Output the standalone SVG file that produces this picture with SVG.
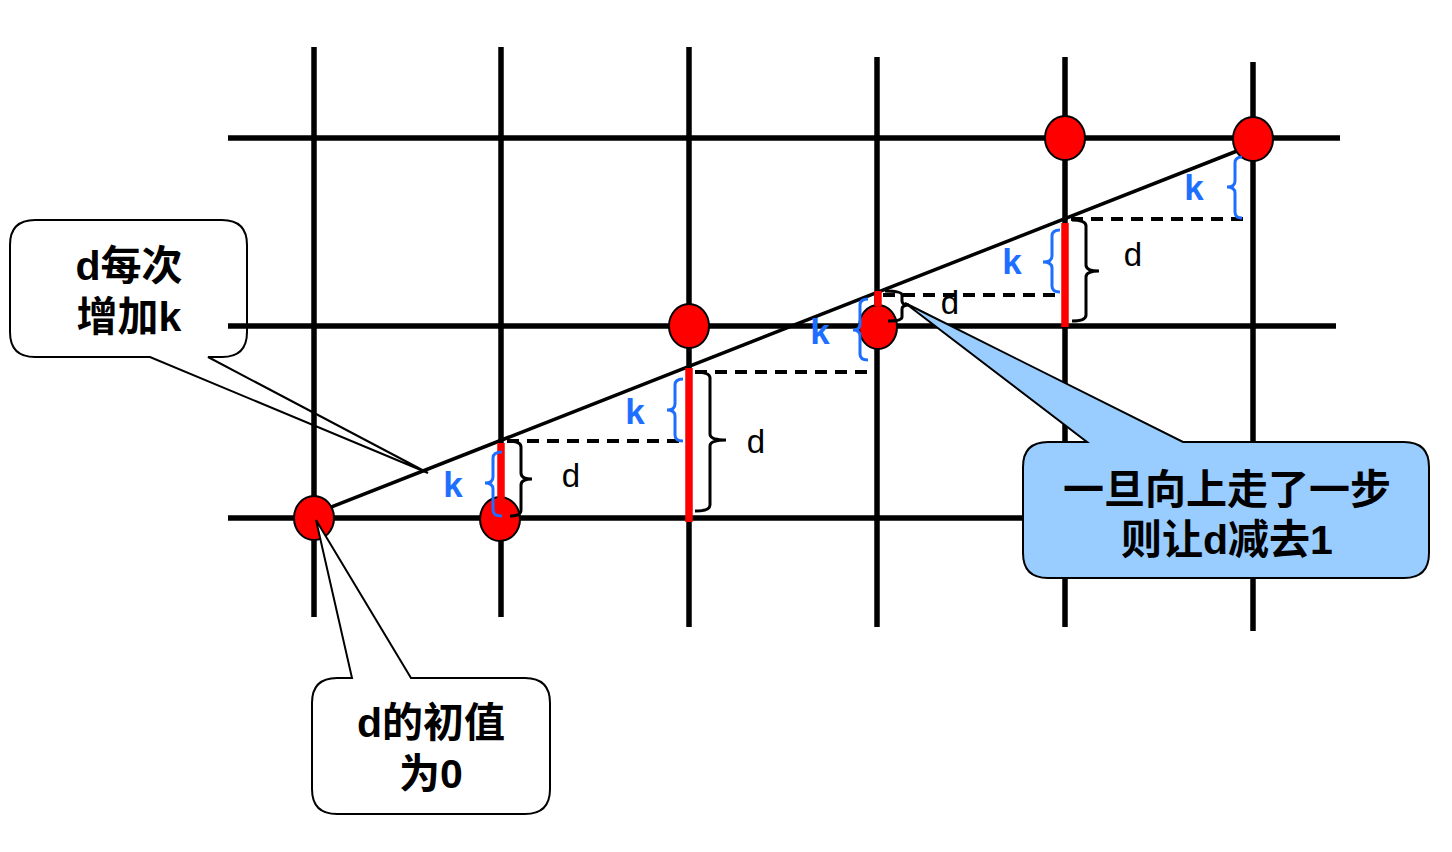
<svg xmlns="http://www.w3.org/2000/svg" width="1452" height="852" viewBox="0 0 1452 852">
<style>
.grid{stroke:#000;stroke-width:5.5;fill:none}
.main{stroke:#000;stroke-width:3.5;fill:none}
.dash{stroke:#000;stroke-width:4;stroke-dasharray:12 8;fill:none}
.dot{fill:#f00;stroke:#000;stroke-width:2}
.bar{stroke:#f00;stroke-width:7.5}
.bk{stroke:#000;stroke-width:3;fill:none}
.bl{stroke:#1E6FFF;stroke-width:3;fill:none}
.kl{font-family:"Liberation Sans",Arial,sans-serif;font-weight:bold;font-size:35px;fill:#1E6FFF;text-anchor:middle}
.dl{font-family:"Liberation Sans",Arial,sans-serif;font-size:33px;fill:#000;text-anchor:middle}
.ct{font-family:"Liberation Sans","Noto Sans CJK SC",sans-serif;font-weight:bold;font-size:41px;fill:#000;text-anchor:middle}
.cw{fill:#fff;stroke:#000;stroke-width:2}
.cb{fill:#99CCFF;stroke:#000;stroke-width:2}
</style>
<rect width="1452" height="852" fill="#fff"/>
<g id="callout-increment">
<path class="cw" d="M35,220 H222 Q247,220 247,245 V332 Q247,357 222,357 H208 L428,473 L150,357 H35 Q10,357 10,332 V245 Q10,220 35,220 Z"/>
<text class="ct" x="129" y="280">d每次</text>
<text class="ct" x="129" y="331">增加k</text>
</g>
<g id="grid">
<line class="grid" x1="314" y1="47" x2="314" y2="617"/>
<line class="grid" x1="501" y1="47" x2="501" y2="617"/>
<line class="grid" x1="689" y1="47" x2="689" y2="627"/>
<line class="grid" x1="877" y1="57" x2="877" y2="627"/>
<line class="grid" x1="1065" y1="57" x2="1065" y2="627"/>
<line class="grid" x1="1253" y1="62" x2="1253" y2="631"/>
<line class="grid" x1="228" y1="138" x2="1340" y2="138"/>
<line class="grid" x1="228" y1="326" x2="1336" y2="326"/>
<line class="grid" x1="228" y1="518" x2="1200" y2="518"/>
</g>
<g id="connectors">
<line class="main" x1="316" y1="513" x2="1237" y2="151"/>
<line class="dash" x1="507" y1="441" x2="689" y2="441"/>
<line class="dash" x1="695" y1="372" x2="877" y2="372"/>
<line class="dash" x1="883" y1="295" x2="1062" y2="295"/>
<line class="dash" x1="1071" y1="219" x2="1248" y2="219"/>
</g>
<g id="dots">
<ellipse class="dot" cx="314" cy="518" rx="20" ry="22"/>
<ellipse class="dot" cx="500" cy="519" rx="20" ry="22"/>
<ellipse class="dot" cx="689" cy="326" rx="20" ry="22"/>
<ellipse class="dot" cx="878" cy="327" rx="19" ry="22"/>
<ellipse class="dot" cx="1065" cy="138" rx="20" ry="22"/>
<ellipse class="dot" cx="1253" cy="139" rx="20" ry="22"/>
</g>
<g id="bars">
<line class="bar" x1="501" y1="443" x2="501" y2="516"/>
<line class="bar" x1="689" y1="368" x2="689" y2="522"/>
<line class="bar" x1="878" y1="291" x2="878" y2="306"/>
<line class="bar" x1="1065" y1="223" x2="1065" y2="327"/>
</g>
<g id="d-braces">
<path class="bk" d="M508,441 Q521,441 521,447 V473 Q521,479 532,479 Q521,479 521,485 V510 Q521,516 510,516"/>
<text class="dl" x="571" y="487">d</text>
<path class="bk" d="M695,372 Q710,372 710,378 V434 Q710,440 726,440 Q710,440 710,446 V505 Q710,511 695,511"/>
<text class="dl" x="756" y="453">d</text>
<path class="bk" d="M885,291 Q902,291 902,295 V301 Q902,305 909,305 Q902,305 902,309 V317 Q902,321 888,321"/>
<text class="dl" x="950" y="314">d</text>
<path class="bk" d="M1072,220 Q1086,220 1086,226 V265 Q1086,271 1099,271 Q1086,271 1086,277 V315 Q1086,321 1072,321"/>
<text class="dl" x="1133" y="266">d</text>
</g>
<g id="k-braces">
<path class="bl" d="M502,452 Q493,452 493,458 V477 Q493,483 485,483 Q493,483 493,489 V510 Q493,516 502,516"/>
<text class="kl" x="453" y="497">k</text>
<path class="bl" d="M683,379 Q675,379 675,385 V404 Q675,410 667,410 Q675,410 675,416 V435 Q675,441 683,441"/>
<text class="kl" x="635" y="424">k</text>
<path class="bl" d="M868,299 Q860,299 860,305 V324 Q860,330 853,330 Q860,330 860,336 V354 Q860,360 868,360"/>
<text class="kl" x="820" y="344">k</text>
<path class="bl" d="M1060,230 Q1052,230 1052,236 V256 Q1052,262 1043,262 Q1052,262 1052,268 V286 Q1052,292 1060,292"/>
<text class="kl" x="1012" y="274">k</text>
<path class="bl" d="M1242,157 Q1235,157 1235,163 V181 Q1235,187 1227,187 Q1235,187 1235,193 V212 Q1235,218 1242,218"/>
<text class="kl" x="1194" y="200">k</text>
</g>
<g id="callout-init">
<path class="cw" d="M337,678 H352 L316,520 L411,678 H525 Q550,678 550,703 V789 Q550,814 525,814 H337 Q312,814 312,789 V703 Q312,678 337,678 Z"/>
<text class="ct" x="431" y="737">d的初值</text>
<text class="ct" x="431" y="788">为0</text>
</g>
<g id="callout-step">
<path class="cb" d="M1048,442 H1087 L905,303 L1183,442 H1404 Q1429,442 1429,467 V553 Q1429,578 1404,578 H1048 Q1023,578 1023,553 V467 Q1023,442 1048,442 Z"/>
<text class="ct" x="1227" y="504">一旦向上走了一步</text>
<text class="ct" x="1227" y="554">则让d减去1</text>
</g>
</svg>
